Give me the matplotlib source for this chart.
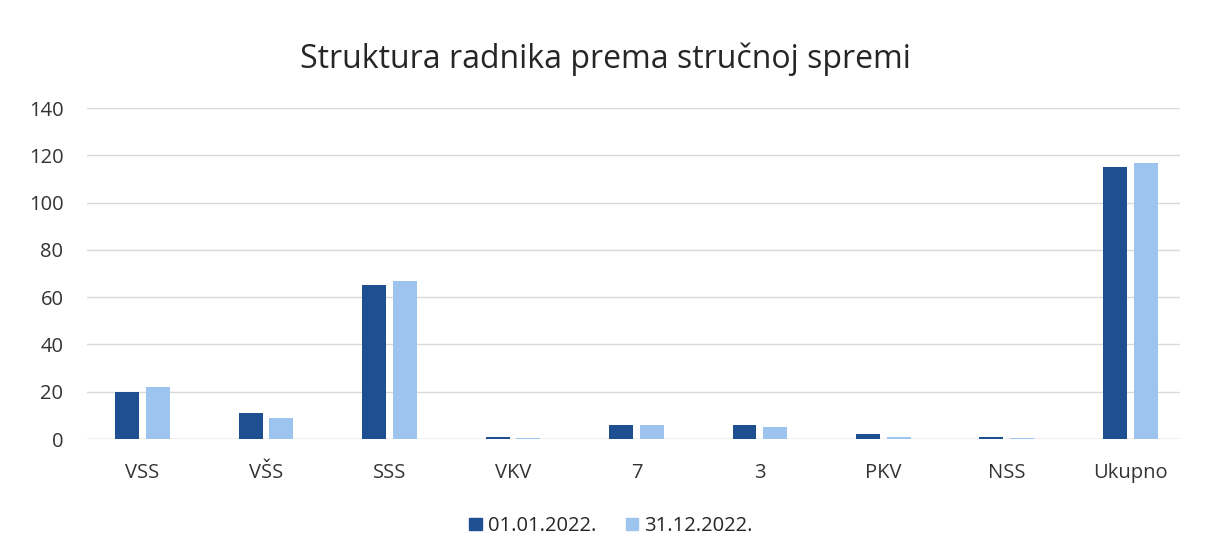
import numpy as np
import matplotlib.pyplot as plt
from matplotlib.patches import Patch

# ------------------------------------------------------
# DATA
# ------------------------------------------------------
categories = ['VSS', 'VŠS', 'SSS', 'VKV', '7', '3', 'PKV', 'NSS', 'Ukupno']
start_2022 = [20, 11, 65, 1, 6, 6, 2, 1, 115]
end_2022 = [22, 9, 67, 0.4, 6, 5, 1, 0.5, 117]
series_names = ['01.01.2022.', '31.12.2022.']
y_ticks = [0, 20, 40, 60, 80, 100, 120, 140]

dark = '#1d4f91'
light = '#9dc3ef'

plt.rcParams['font.family'] = ['Open Sans', 'DejaVu Sans']

fig = plt.figure(figsize=(12.15, 5.55), dpi=100)
ax1 = fig.add_axes([0.0716, 0.209, 0.8994, 0.596])

x = np.arange(len(categories))
w = 0.194
off = 0.125
ax1.bar(x - off, start_2022, width=w, color=dark, zorder=3)
ax1.bar(x + off, end_2022, width=w, color=light, zorder=3)

# Axis setup
ax1.set_ylim(0, 140)
ax1.set_xlim(-0.45, 8.4)
ax1.set_yticks(y_ticks)
ax1.set_yticklabels([str(t) for t in y_ticks], fontsize=14.5, color='#333333')
ax1.set_xticks(x)
ax1.set_xticklabels(categories, fontsize=14.5, color='#333333')
ax1.tick_params(axis='both', length=0)
ax1.tick_params(axis='y', pad=17)
ax1.tick_params(axis='x', pad=17)
ax1.grid(True, axis='y', color='#d9d9d9', linewidth=1, zorder=0)
for s in ax1.spines.values():
    s.set_visible(False)
ax1.axhline(0, color='#d9d9d9', linewidth=1, zorder=2)

# Title
fig.text(0.498, 0.893, 'Struktura radnika prema stručnoj spremi', ha='center', va='center',
         fontsize=23, color='#262626')

# Legend
handles = [Patch(color=dark, label=series_names[0]), Patch(color=light, label=series_names[1])]
fig.legend(handles=handles, loc='center', bbox_to_anchor=(0.503, 0.052), ncol=2, frameon=False,
           fontsize=14.5, handlelength=0.6, handleheight=0.6, handletextpad=0.3, columnspacing=1.5,
           labelcolor='#262626')

fig.savefig('out.png', dpi=100)
